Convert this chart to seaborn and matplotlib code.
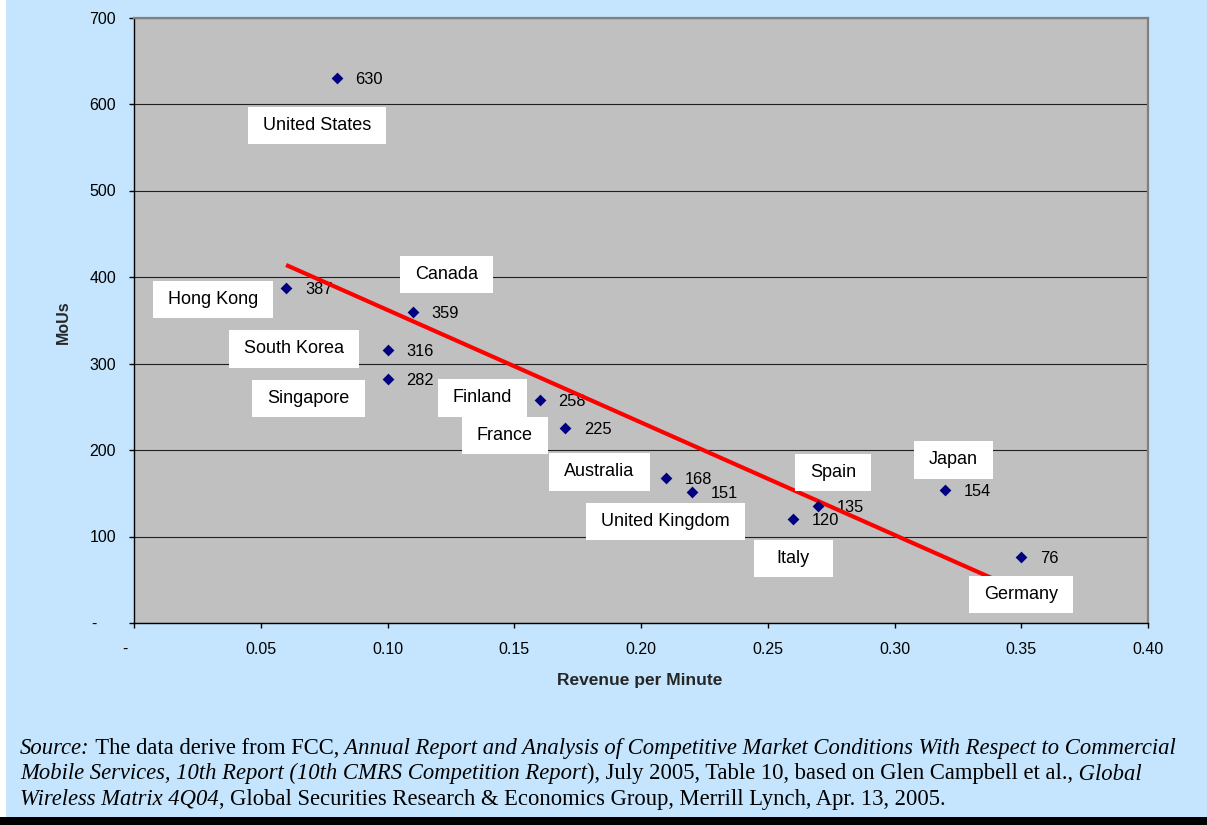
import numpy as np
import pandas as pd
import matplotlib
matplotlib.use("Agg")
import matplotlib.pyplot as plt
import matplotlib.transforms as mtransforms
from matplotlib.patches import Rectangle
from matplotlib.path import Path
import seaborn as sns

# ---------------- data ----------------
countries = ["United States", "Hong Kong", "Canada", "South Korea", "Singapore",
             "Finland", "France", "Australia", "United Kingdom", "Italy",
             "Spain", "Japan", "Germany"]
revenue_per_minute = [0.08, 0.06, 0.11, 0.10, 0.10, 0.16, 0.17, 0.21, 0.22, 0.26,
                      0.27, 0.32, 0.35]
mous = [630, 387, 359, 316, 282, 258, 225, 168, 151, 120, 135, 154, 76]

x_ticks = [0, 0.05, 0.10, 0.15, 0.20, 0.25, 0.30, 0.35, 0.40]
x_tick_labels = ["-", "0.05", "0.10", "0.15", "0.20", "0.25", "0.30", "0.35", "0.40"]
y_ticks = [0, 100, 200, 300, 400, 500, 600, 700]
y_tick_labels = ["-", "100", "200", "300", "400", "500", "600", "700"]

# label box offsets from each point (points; layout only)
label_offsets = [(-14.4, -34.0), (-52.6, -8.0), (24.5, 27.3), (-67.0, 0.6),
                 (-56.9, -13.8), (-41.0, 1.4), (-43.2, -5.1), (-48.2, 4.2),
                 (-18.7, -21.0), (0.0, -28.2), (10.8, 24.4), (5.8, 21.5),
                 (0.0, -26.7)]

source_lines = [
    [("Source:", "italic"), (" The data derive from FCC,", "normal"),
     (" Annual Report and Analysis of Competitive Market Conditions With Respect to Commercial", "italic")],
    [("Mobile Services, 10th Report (10th CMRS Competition Report", "italic"),
     ("), July 2005, Table 10, based on Glen Campbell et al.,", "normal"), (" Global", "italic")],
    [("Wireless Matrix 4Q04", "italic"),
     (", Global Securities Research & Economics Group, Merrill Lynch, Apr. 13, 2005.", "normal")],
]

df = pd.DataFrame({"country": countries, "rev": revenue_per_minute, "mou": mous})

# ---------------- style ----------------
sns.set_style("ticks")
plt.rcParams["font.family"] = ["Liberation Sans", "DejaVu Sans"]

BG = "#C4E5FD"
PLOT_BG = "#C0C0C0"
W, H = 1207, 825

fig = plt.figure(figsize=(W / 100, H / 100), dpi=100, facecolor=BG)
ax = fig.add_axes([134 / W, 1 - 623 / H, (1148 - 134) / W, (623 - 17.5) / H])
ax.set_facecolor(PLOT_BG)

# page decorations
fig.patches.append(Rectangle((0, 0), 6 / W, 1, transform=fig.transFigure,
                             facecolor="white", edgecolor="none", zorder=0))
fig.patches.append(Rectangle((0, 0), 1, 8.5 / H, transform=fig.transFigure,
                             facecolor="black", edgecolor="none", zorder=0))

# trend line and points
sns.regplot(data=df, x="rev", y="mou", scatter=False, ci=None, truncate=True,
            color="#FF0000", line_kws={"linewidth": 3.0, "zorder": 3,
                                       "solid_capstyle": "butt"}, ax=ax)
sns.scatterplot(data=df, x="rev", y="mou", marker="D", color="#000080", s=36,
                linewidth=0, zorder=4, ax=ax, legend=False)

ax.set_xlim(0, 0.40)
ax.set_ylim(0, 700)

ax.set_axisbelow(True)
ax.yaxis.grid(True, color="#202020", linewidth=0.8)
ax.xaxis.grid(False)

for side in ["left", "bottom"]:
    ax.spines[side].set_color("black")
    ax.spines[side].set_linewidth(1.0)
for side in ["top", "right"]:
    ax.spines[side].set_visible(True)
    ax.spines[side].set_color("#808080")
    ax.spines[side].set_linewidth(1.6)

ax.set_xticks(x_ticks)
ax.set_xticklabels(x_tick_labels)
ax.set_yticks(y_ticks)
ax.set_yticklabels(y_tick_labels)
ax.tick_params(axis="both", direction="out", length=3.5, width=1.0, color="black",
               labelsize=11.5, labelcolor="black")
ax.tick_params(axis="x", pad=10)
ax.tick_params(axis="y", pad=9.5)

# shift the "-" zero labels like Excel's accounting format
xt0 = ax.xaxis.get_major_ticks()[0].label1
xt0.set_transform(xt0.get_transform() + mtransforms.ScaledTranslation(-9.5 / 100, 0, fig.dpi_scale_trans))
yt0 = ax.yaxis.get_major_ticks()[0].label1
yt0.set_transform(yt0.get_transform() + mtransforms.ScaledTranslation(-19 / 100, 0, fig.dpi_scale_trans))

ax.set_xlabel("Revenue per Minute", fontsize=12.5, fontweight="bold")
ax.set_ylabel("MoUs", fontsize=11.5, fontweight="bold")
ax.xaxis.set_label_coords(0.499, -0.0826)
ax.yaxis.set_label_coords(-0.062, 0.4976)


def make_box(padx, pady):
    def box(x0, y0, width, height, mutation_size):
        px = padx * mutation_size
        py = pady * mutation_size
        x0, y0 = x0 - px, y0 - py
        x1, y1 = x0 + width + 2 * px, y0 + height + 2 * py
        return Path([(x0, y0), (x1, y0), (x1, y1), (x0, y1), (x0, y0)], closed=True)
    return box


for i, row in df.iterrows():
    ax.annotate(f"{row.mou}", (row.rev, row.mou), xytext=(13.5, -1.0),
                textcoords="offset points", ha="left", va="center",
                fontsize=11.8, color="black", zorder=2.5)
    padx = 1.27 if row.country == "Italy" else 0.83
    ax.annotate(row.country, (row.rev, row.mou), xytext=label_offsets[i],
                textcoords="offset points", ha="center", va="center",
                fontsize=13, color="black", zorder=6,
                bbox=dict(boxstyle=make_box(padx, 0.565), facecolor="white",
                          edgecolor="none"))

# source note: segments placed one after another on a shared baseline
SRC_SIZE = 16.3
SERIF = ["Liberation Serif", "DejaVu Serif"]
renderer = fig.canvas.get_renderer()
baselines = [754, 779.5, 805]
for line, base in zip(source_lines, baselines):
    x_px = 20.0
    for seg, style in line:
        t = fig.text(x_px / W, 1 - base / H, seg, fontsize=SRC_SIZE, style=style,
                     family=SERIF, ha="left", va="baseline", color="black")
        bb = t.get_window_extent(renderer=renderer)
        x_px = bb.x1

fig.savefig("out.png", dpi=100, facecolor=BG)
